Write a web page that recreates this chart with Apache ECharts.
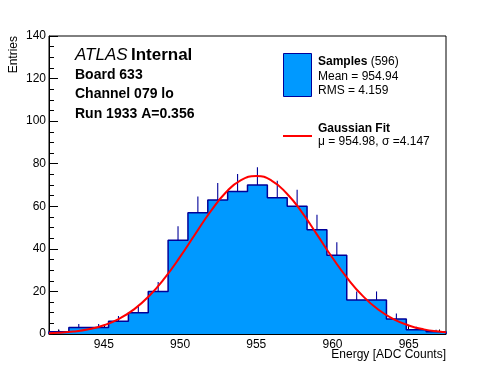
<!DOCTYPE html>
<html>
<head>
<meta charset="utf-8">
<script src="https://cdn.jsdelivr.net/npm/echarts@6/dist/echarts.min.js"></script>
<style>html,body{margin:0;padding:0;background:#fff}#c{width:496px;height:372px}</style>
</head>
<body>
<div id="c"></div>
<script>
// ---- data ----
var binLo = 941.4;
var binHi = 967.45;
var counts = [1, 3, 3, 6, 10, 20, 44, 57, 63, 67, 70, 64, 60, 49, 37, 16, 16, 7, 2, 1];
var errors = [1, 1.73, 1.73, 2.45, 3.16, 4.47, 6.63, 7.55, 7.94, 8.19, 8.37, 8, 7.75, 7, 6.08, 4, 4, 2.65, 1.41, 1];
var fitX = [941.4, 942, 943, 944, 945, 946, 947, 948, 949, 950, 951, 952, 953, 954, 955, 956, 957, 958, 959, 960, 961, 962, 963, 964, 965, 966, 967, 967.45];
var fitY = [0.36, 0.56, 1.15, 2.24, 4.12, 7.15, 11.7, 18.07, 26.34, 36.22, 47.01, 57.55, 66.48, 72.3, 74.2, 72.1, 66.0, 57.15, 46.57, 35.81, 25.98, 17.78, 11.48, 7.0, 4.02, 2.18, 1.12, 0.81];
var xMajorTicks = [945, 950, 955, 960, 965];
var xMinorTicks = [942, 943, 944, 946, 947, 948, 949, 951, 952, 953, 954, 956, 957, 958, 959, 961, 962, 963, 964, 966, 967];

var FONT = "'Liberation Sans', Arial, Helvetica, sans-serif";
var FILL = '#0099ff';
var EDGE = '#000099';

var nb = counts.length;
var bw = (binHi - binLo) / nb;
var histData = [[binLo, 0]];
for (var i = 0; i < nb; i++) histData.push([binLo + i * bw, counts[i]]);
histData.push([binHi, counts[nb - 1]]);
histData.push([binHi, 0]);
var errData = counts.map(function (c, i) { return [binLo + (i + 0.5) * bw, c, errors[i]]; });
var fitData = fitX.map(function (x, i) { return [x, fitY[i]]; });

var chart = echarts.init(document.getElementById('c'), null, {renderer: 'canvas'});
chart.setOption({
  animation: false,
  backgroundColor: '#fff',
  textStyle: {fontFamily: FONT},
  grid: {left: 49, right: 50, top: 36, bottom: 38, show: true, borderColor: '#000', borderWidth: 1, backgroundColor: 'transparent'},
  xAxis: [{
    type: 'value', min: binLo, max: binHi,
    axisLine: {show: true, lineStyle: {color: '#000', width: 1}},
    axisTick: {show: true, inside: true, length: 9, customValues: xMajorTicks, lineStyle: {color: '#000'}},
    axisLabel: {show: true, customValues: xMajorTicks, color: '#000', fontSize: 12, fontFamily: FONT, margin: 5},
    splitLine: {show: false}
  }, {
    type: 'value', min: binLo, max: binHi, position: 'bottom',
    axisLine: {show: false},
    axisTick: {show: true, inside: true, length: 4.5, customValues: xMinorTicks, lineStyle: {color: '#000'}},
    axisLabel: {show: false},
    splitLine: {show: false}
  }],
  yAxis: {
    type: 'value', min: 0, max: 140, interval: 20,
    axisLine: {show: true, lineStyle: {color: '#000', width: 1}},
    axisTick: {show: true, inside: true, length: 9, lineStyle: {color: '#000'}},
    minorTick: {show: true, splitNumber: 4, length: 5, lineStyle: {color: '#000'}},
    axisLabel: {color: '#000', fontSize: 12, fontFamily: FONT, margin: 3},
    splitLine: {show: false}
  },
  series: [{
    type: 'line', step: 'end', data: histData, symbol: 'none', z: 2,
    lineStyle: {color: EDGE, width: 1.5},
    areaStyle: {color: FILL, opacity: 1}
  }, {
    type: 'custom', data: errData, z: 3,
    renderItem: function (params, api) {
      var p0 = api.coord([api.value(0), api.value(1)]);
      var p1 = api.coord([api.value(0), api.value(1) + api.value(2)]);
      return {type: 'line', shape: {x1: p0[0], y1: p0[1], x2: p1[0], y2: p1[1]}, style: {stroke: EDGE, lineWidth: 1.1}};
    }
  }, {
    type: 'line', data: fitData, smooth: true, symbol: 'none', z: 4,
    lineStyle: {color: '#ff0000', width: 2}
  }],
  graphic: [
    {type: 'text', left: 75, top: 47, style: {text: '{i|ATLAS} {b|Internal}', rich: {
      i: {fontStyle: 'italic', fontSize: 17, fontFamily: FONT, fill: '#000'},
      b: {fontWeight: 'bold', fontSize: 17, fontFamily: FONT, fill: '#000'}}}},
    {type: 'text', x: 75, y: 75, style: {text: 'Board 633', font: 'bold 14px ' + FONT, fill: '#000', verticalAlign: 'middle'}},
    {type: 'text', x: 75, y: 94.5, style: {text: 'Channel 079 lo', font: 'bold 14px ' + FONT, fill: '#000', verticalAlign: 'middle'}},
    {type: 'text', x: 75, y: 114, style: {text: 'Run 1933 A=0.356', font: 'bold 14px ' + FONT, fill: '#000', verticalAlign: 'middle'}},
    {type: 'rect', shape: {x: 283.5, y: 53.5, width: 28, height: 43}, style: {fill: FILL, stroke: EDGE, lineWidth: 1}},
    {type: 'text', x: 318, y: 62, style: {text: '{b|Samples} {r|(596)}', verticalAlign: 'middle', rich: {
      b: {fontWeight: 'bold', fontSize: 12, fontFamily: FONT, fill: '#000'},
      r: {fontSize: 12, fontFamily: FONT, fill: '#000'}}}},
    {type: 'text', x: 318, y: 77, style: {text: 'Mean = 954.94', font: '12px ' + FONT, fill: '#000', verticalAlign: 'middle'}},
    {type: 'text', x: 318, y: 90.5, style: {text: 'RMS = 4.159', font: '12px ' + FONT, fill: '#000', verticalAlign: 'middle'}},
    {type: 'line', shape: {x1: 283, y1: 136, x2: 312, y2: 136}, style: {stroke: '#ff0000', lineWidth: 2}},
    {type: 'text', x: 318, y: 129, style: {text: 'Gaussian Fit', font: 'bold 12px ' + FONT, fill: '#000', verticalAlign: 'middle'}},
    {type: 'text', x: 318, y: 142, style: {text: 'μ = 954.98, σ =4.147', font: '12px ' + FONT, fill: '#000', verticalAlign: 'middle'}},
    {type: 'text', x: 446, y: 354.5, style: {text: 'Energy [ADC Counts]', font: '12px ' + FONT, fill: '#000', align: 'right', verticalAlign: 'middle'}},
    {type: 'text', x: 13.5, y: 36, rotation: Math.PI / 2, style: {text: 'Entries', font: '12px ' + FONT, fill: '#000', align: 'right', verticalAlign: 'middle'}}
  ]
});
</script>
</body>
</html>
